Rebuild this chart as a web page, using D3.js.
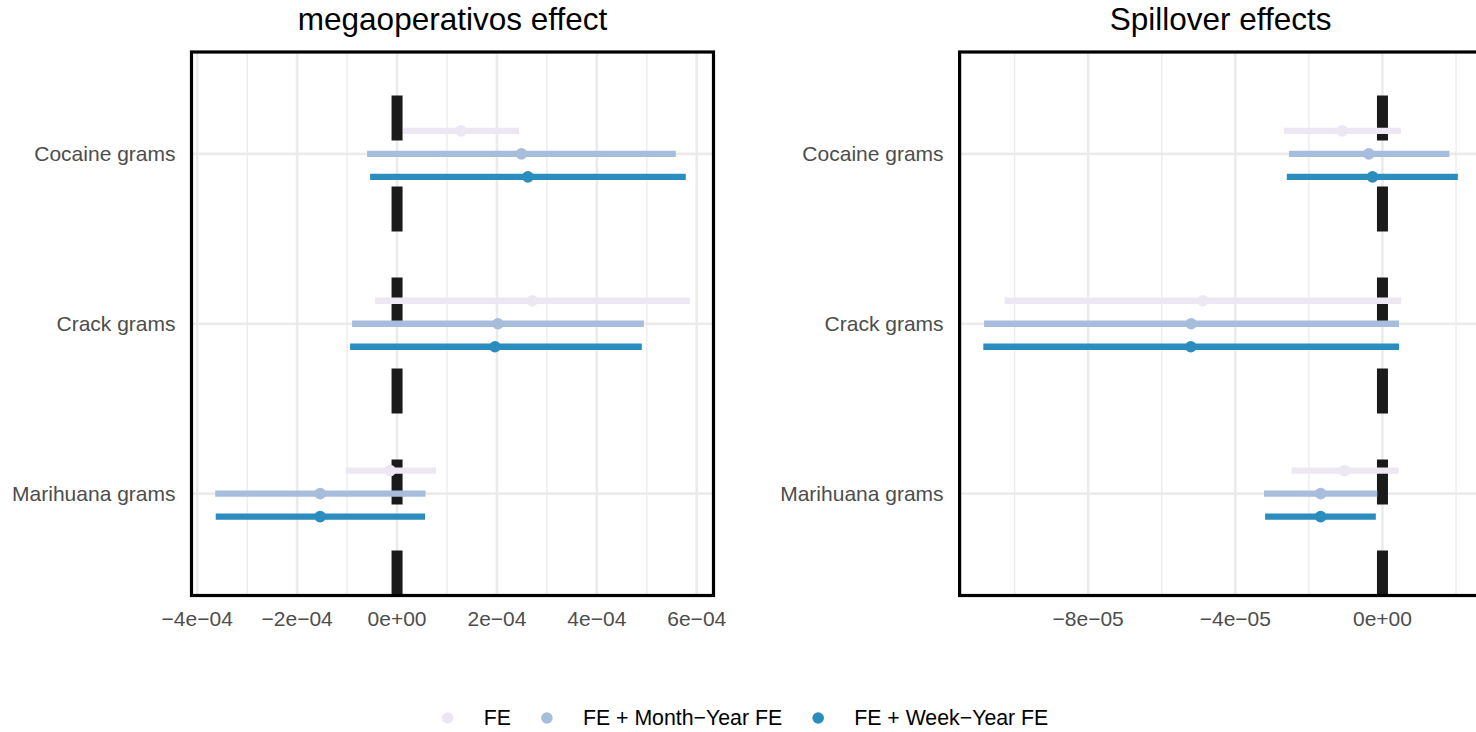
<!DOCTYPE html>
<html>
<head>
<meta charset="utf-8">
<script src="https://cdn.jsdelivr.net/npm/d3@7"></script>
<style>
  html, body { margin: 0; padding: 0; background: #ffffff; }
  svg { display: block; font-family: "Liberation Sans", Arial, Helvetica, sans-serif; }
</style>
</head>
<body>
<svg id="chart" width="1476" height="732"></svg>
<script>
// ---------------- data ----------------
const categories = ["Cocaine grams", "Crack grams", "Marihuana grams"];
const seriesNames = ["FE", "FE + Month\u2212Year FE", "FE + Week\u2212Year FE"];
const seriesColors = ["#ECE7F2", "#A6BDDB", "#2B8CBE"];

// Panel 1: megaoperativos effect (estimate, lower, upper) per series, per category
const megaEstFE    = [1.28e-4, 2.71e-4, -1.4e-5];
const megaLowFE    = [1.2e-5, -4.4e-5, -1.03e-4];
const megaHighFE   = [2.44e-4, 5.86e-4, 7.8e-5];
const megaEstMonth  = [2.49e-4, 2.02e-4, -1.54e-4];
const megaLowMonth  = [-6.0e-5, -9.0e-5, -3.64e-4];
const megaHighMonth = [5.58e-4, 4.94e-4, 5.7e-5];
const megaEstWeek  = [2.62e-4, 1.96e-4, -1.54e-4];
const megaLowWeek  = [-5.4e-5, -9.4e-5, -3.63e-4];
const megaHighWeek = [5.78e-4, 4.90e-4, 5.6e-5];

// Panel 2: Spillover effects
const spillEstFE    = [-1.09e-5, -4.88e-5, -1.03e-5];
const spillLowFE    = [-2.68e-5, -1.027e-4, -2.47e-5];
const spillHighFE   = [5.0e-6, 5.1e-6, 4.4e-6];
const spillEstMonth  = [-3.7e-6, -5.20e-5, -1.68e-5];
const spillLowMonth  = [-2.54e-5, -1.083e-4, -3.22e-5];
const spillHighMonth = [1.82e-5, 4.5e-6, -1.4e-6];
const spillEstWeek  = [-2.7e-6, -5.21e-5, -1.68e-5];
const spillLowWeek  = [-2.60e-5, -1.085e-4, -3.19e-5];
const spillHighWeek = [2.05e-5, 4.5e-6, -1.8e-6];

// Axis ticks
const megaTicks = [-4e-4, -2e-4, 0, 2e-4, 4e-4, 6e-4];
const megaTickLabels = ["\u22124e\u221204", "\u22122e\u221204", "0e+00", "2e\u221204", "4e\u221204", "6e\u221204"];
const megaMinor = [-3e-4, -1e-4, 1e-4, 3e-4, 5e-4];
const spillTicks = [-8e-5, -4e-5, 0];
const spillTickLabels = ["\u22128e\u221205", "\u22124e\u221205", "0e+00"];
const spillMinor = [-1e-4, -6e-5, -2e-5, 2e-5];

const panelTitles = ["megaoperativos effect", "Spillover effects"];

// ---------------- build ----------------
function rows(est, low, high) {
  const out = [];
  [0, 1, 2].forEach(s => {
    categories.forEach((c, i) => {
      out.push({ cat: c, series: seriesNames[s], color: seriesColors[s], est: est[s][i], low: low[s][i], high: high[s][i] });
    });
  });
  return out;
}
const megaRows = rows([megaEstFE, megaEstMonth, megaEstWeek], [megaLowFE, megaLowMonth, megaLowWeek], [megaHighFE, megaHighMonth, megaHighWeek]);
const spillRows = rows([spillEstFE, spillEstMonth, spillEstWeek], [spillLowFE, spillLowMonth, spillLowWeek], [spillHighFE, spillHighMonth, spillHighWeek]);

const svg = d3.select("#chart");
const panelTop = 52, panelBottom = 595.5, panelW = 522;

const y = d3.scalePoint().domain(categories).range([panelTop, panelBottom]).padding(0.6);
const dodge = d3.scalePoint().domain(seriesNames).range([-23, 23]);

function drawPanel(data, x0, ticks, tickLabels, minor, title) {
  const lo = d3.min(data, d => d.low), hi = d3.max(data, d => d.high);
  const pad = (hi - lo) * 0.05;
  const x = d3.scaleLinear().domain([lo - pad, hi + pad]).range([x0, x0 + panelW]);
  const g = svg.append("g");

  // minor grid
  g.selectAll(".minor").data(minor).enter().append("line")
    .attr("x1", d => x(d)).attr("x2", d => x(d)).attr("y1", panelTop).attr("y2", panelBottom)
    .attr("stroke", "#EBEBEB").attr("stroke-width", 1.3);
  // major grid x
  g.selectAll(".majorx").data(ticks).enter().append("line")
    .attr("x1", d => x(d)).attr("x2", d => x(d)).attr("y1", panelTop).attr("y2", panelBottom)
    .attr("stroke", "#EBEBEB").attr("stroke-width", 2.6);
  // major grid y
  g.selectAll(".majory").data(categories).enter().append("line")
    .attr("x1", x0).attr("x2", x0 + panelW).attr("y1", d => y(d)).attr("y2", d => y(d))
    .attr("stroke", "#EBEBEB").attr("stroke-width", 2.6);

  // zero reference line (dashed)
  g.append("line")
    .attr("x1", x(0)).attr("x2", x(0)).attr("y1", panelBottom).attr("y2", panelTop)
    .attr("stroke", "#1A1A1A").attr("stroke-width", 11)
    .attr("stroke-dasharray", "45,46");

  // ranges
  g.selectAll(".range").data(data).enter().append("line")
    .attr("x1", d => x(d.low)).attr("x2", d => x(d.high))
    .attr("y1", d => y(d.cat) + dodge(d.series)).attr("y2", d => y(d.cat) + dodge(d.series))
    .attr("stroke", d => d.color).attr("stroke-width", 6.3);
  // points
  g.selectAll(".pt").data(data).enter().append("circle")
    .attr("cx", d => x(d.est)).attr("cy", d => y(d.cat) + dodge(d.series))
    .attr("r", 5.8).attr("fill", d => d.color);

  // border
  g.append("rect").attr("x", x0).attr("y", panelTop).attr("width", panelW).attr("height", panelBottom - panelTop)
    .attr("fill", "none").attr("stroke", "#000").attr("stroke-width", 3.2);

  // x tick labels
  g.selectAll(".xt").data(ticks).enter().append("text")
    .attr("x", d => x(d)).attr("y", 626)
    .attr("text-anchor", "middle").attr("font-size", 21).attr("fill", "#4D4D4D")
    .text((d, i) => tickLabels[i]);
  // y labels
  g.selectAll(".yt").data(categories).enter().append("text")
    .attr("x", x0 - 16).attr("y", d => y(d)).attr("dy", "0.35em")
    .attr("text-anchor", "end").attr("font-size", 21).attr("fill", "#4D4D4D")
    .text(d => d);
  // title
  g.append("text").attr("x", x0 + panelW / 2).attr("y", 29.5)
    .attr("text-anchor", "middle").attr("font-size", 31.5).attr("fill", "#000")
    .text(title);
}

drawPanel(megaRows, 191.5, megaTicks, megaTickLabels, megaMinor, panelTitles[0]);
drawPanel(spillRows, 959.6, spillTicks, spillTickLabels, spillMinor, panelTitles[1]);

// ---------------- legend ----------------
const leg = svg.append("g");
const legY = 718;
let cx = 0;
const items = [];
seriesNames.forEach((name, i) => {
  const t = leg.append("text").attr("y", legY).attr("dy", "0.35em")
    .attr("font-size", 21.3).attr("fill", "#000").text(name);
  const w = t.node().getComputedTextLength();
  items.push({ t, w, dotX: cx + 12, textX: cx + 48, color: seriesColors[i] });
  cx += 48 + w + 24;
});
const totalW = cx - 24;
const offset = 742 - totalW / 2;
items.forEach(it => {
  leg.append("circle").attr("cx", offset + it.dotX).attr("cy", legY).attr("r", 5.8).attr("fill", it.color);
  it.t.attr("x", offset + it.textX);
});
</script>
</body>
</html>
